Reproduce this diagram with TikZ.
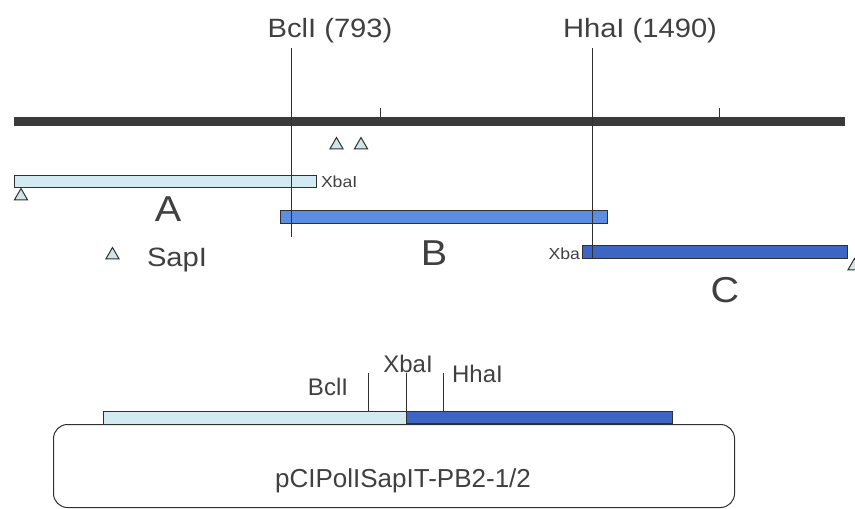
\documentclass[tikz,border=0pt]{standalone}
\usepackage{fontspec}
\setmainfont{Liberation Sans}
\newfontfamily\widefont[FakeStretch=1.1]{Liberation Sans}
\usetikzlibrary{shapes.geometric}
\definecolor{ink}{HTML}{404040}
\definecolor{linecol}{HTML}{303030}
\definecolor{rulercol}{HTML}{3A3A3A}
\definecolor{lightbar}{HTML}{D2EAF2}
\definecolor{midbar}{HTML}{5B8DE0}
\definecolor{darkbar}{HTML}{3D66C4}
\definecolor{trifill}{HTML}{CFE6E8}
\begin{document}
\begin{tikzpicture}[x=1pt,y=-1pt,
  txt/.style={inner sep=0pt, outer sep=0pt, text=ink},
  big/.style={txt, font=\widefont\fontsize{26.5}{26.5}\selectfont},
  huge/.style={txt, font=\widefont\fontsize{36}{36}\selectfont},
  small/.style={txt, font=\widefont\fontsize{16}{16}\selectfont},
  plain/.style={txt, font=\fontsize{24}{24}\selectfont},
  mainlbl/.style={txt, font=\fontsize{26}{26}\selectfont},
  barbox/.style={draw=linecol, line width=0.9pt, inner sep=0pt, outer sep=0pt, anchor=north west},
  cutline/.style={draw=linecol, line width=0.9pt},
  tickline/.style={draw=linecol, line width=0.9pt},
  tri/.style={regular polygon, regular polygon sides=3, minimum size=15pt, inner sep=0pt,
    draw=linecol, line width=1pt, fill=trifill, anchor=north}]
\useasboundingbox (0,0) rectangle (855,509);
\fill[white] (0,0) rectangle (855,509);

% genome ruler
\node[fill=rulercol, inner sep=0pt, outer sep=0pt, anchor=north west,
      minimum width=831pt, minimum height=9pt] (ruler) at (14,117) {};
\coordinate (tk1) at (380,108);
\coordinate (tk2) at (719,108);
\draw[tickline] (tk1) -- (tk1 |- ruler.north);
\draw[tickline] (tk2) -- (tk2 |- ruler.north);

% fragments
\node[barbox, fill=lightbar, minimum width=302pt, minimum height=12pt] (barA) at (14,175) {};
\node[barbox, fill=midbar, minimum width=327pt, minimum height=13pt] (barB) at (280,210) {};
\node[barbox, fill=darkbar, minimum width=265pt, minimum height=13pt] (barC) at (582,245) {};

% site labels
\node[big, anchor=base] (bcllbl) at (330,37) {BclI (793)};
\node[big, anchor=base] (hhalbl) at (640,37) {HhaI (1490)};
\coordinate (bcltop) at (291,48);
\coordinate (bclbot) at (291,237);
\coordinate (hhatop) at (592,48);
\coordinate (hhabot) at (592,258);
\draw[cutline] (bcltop) -- (bclbot);
\draw[cutline] (hhatop) -- (hhabot);

% SapI triangles
\node[tri] (s1) at (336.5,136.5) {};
\node[tri] (s2) at (361,136.5) {};
\node[tri] (s3) at (21,187.5) {};
\node[tri] (s4) at (854.5,257.5) {};
\node[tri] (slegend) at (112.5,246.5) {};
\node[big, anchor=base west] (saplbl) at (147,266) {SapI};

% fragment labels
\node[small, anchor=base west] (xbaA) at (321,187) {XbaI};
\node[small, anchor=base east] (xbaC) at (580,259) {Xba};
\node[huge, anchor=base] (lblA) at (168,221) {A};
\node[huge, anchor=base] (lblB) at (434,265) {B};
\node[huge, anchor=base] (lblC) at (725,302) {C};

% plasmid
\node[draw=linecol, line width=1pt, rounded corners=14pt, inner sep=0pt, anchor=north west,
      minimum width=681pt, minimum height=83pt] (plasmid) at (53,424) {};
\node[barbox, fill=lightbar, minimum width=303pt, minimum height=13pt] (pA) at (103,411) {};
\node[barbox, fill=darkbar, minimum width=266pt, minimum height=12pt] (pC) at (406,411) {};
\node[mainlbl, anchor=base] (pname) at (403,487) {pCIPolISapIT-PB2-1/2};

\coordinate (pbcl) at (368,373);
\coordinate (pxba) at (406,373);
\coordinate (phha) at (443,373);
\draw[tickline] (pbcl) -- (pbcl |- pA.north);
\draw[tickline] (pxba) -- (pxba |- pA.north);
\draw[tickline] (phha) -- (phha |- pA.north);
\node[plain, anchor=base] (pbcllbl) at (328,395) {BclI};
\node[plain, anchor=base] (pxbalbl) at (408,372) {XbaI};
\node[plain, anchor=base] (phhalbl) at (477.5,382) {HhaI};
\end{tikzpicture}
\end{document}
